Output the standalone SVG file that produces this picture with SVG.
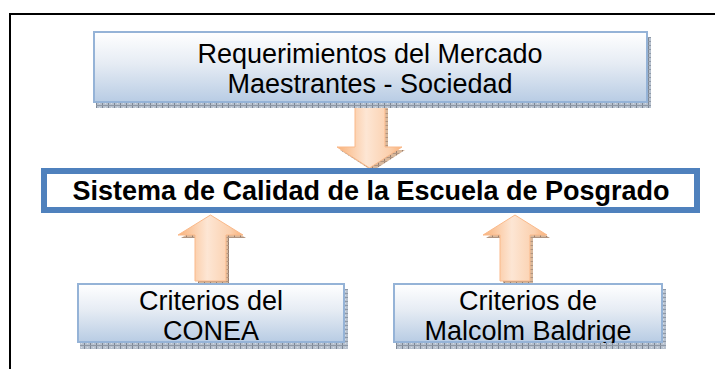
<svg xmlns="http://www.w3.org/2000/svg" width="715" height="369" viewBox="0 0 715 369">
<style>
.box{stroke:#95B3D7;stroke-width:2;fill:url(#boxg)}
.sh{fill:url(#dots)}
.ash{fill:url(#adots)}
.t{font-family:"Liberation Sans",Arial,sans-serif;font-size:27px;fill:#000;text-anchor:middle}
.b{font-weight:bold}
.arr{fill:url(#arrg);stroke:#FAB98A;stroke-width:1}
</style>
<defs>
<linearGradient id="boxg" x1="0" y1="0" x2="0" y2="1">
<stop offset="0" stop-color="#FFFFFF"/>
<stop offset="0.45" stop-color="#E6ECF4"/>
<stop offset="1" stop-color="#B8CCE4"/>
</linearGradient>
<linearGradient id="arrg" x1="0" y1="0" x2="1" y2="0">
<stop offset="0" stop-color="#F9B27A"/>
<stop offset="0.45" stop-color="#FDE6D4"/>
<stop offset="0.8" stop-color="#FBD0AE"/>
<stop offset="1" stop-color="#F9B27A"/>
</linearGradient>
<pattern id="dots" width="6" height="4" patternUnits="userSpaceOnUse">
<rect width="6" height="4" fill="#B7C1CE"/>
<rect width="1" height="4" fill="#7E8896"/>
<rect y="1" width="6" height="1" fill="#8E98A6"/>
<rect x="3" y="3" width="1" height="1" fill="#D6DCE4"/>
</pattern>
<pattern id="adots" width="6" height="4" patternUnits="userSpaceOnUse">
<rect width="6" height="4" fill="#D8B89C"/>
<rect width="1" height="4" fill="#9A8070"/>
<rect y="1" width="6" height="1" fill="#B09480"/>
</pattern>
<clipPath id="clipL"><rect x="77" y="283" width="268" height="60"/></clipPath>
<clipPath id="clipR"><rect x="393" y="283" width="270" height="60"/></clipPath>
</defs>
<rect x="10" y="14" width="720" height="370" fill="#FFFFFF" stroke="#000000" stroke-width="2"/>
<g id="connectors">
<polygon class="ash" points="358,104 388,104 388,150 405,150 372.5,171 340,150 358,150"/>
<polygon class="arr" points="355,104 385,104 385,147 402,147 369.5,168 337,147 355,147"/>
<polygon class="ash" points="213.5,218 246,238 229,238 229,283 198,283 198,238 181,238"/>
<polygon class="arr" points="210.5,215 243,235 226,235 226,281 195,281 195,235 178,235"/>
<polygon class="ash" points="518,218 550,238 533,238 533,283 503,283 503,238 486,238"/>
<polygon class="arr" points="515,215 547,235 530,235 530,281 500,281 500,235 483,235"/>
</g>
<g id="top">
<rect class="sh" x="96" y="37" width="555" height="71"/>
<rect class="box" x="94" y="32" width="553" height="70"/>
<text class="t" x="370" y="63">Requerimientos del Mercado</text>
<text class="t" x="370" y="93">Maestrantes - Sociedad</text>
</g>
<g id="main">
<rect x="44" y="171" width="653" height="39" fill="#FFFFFF" stroke="#4F81BD" stroke-width="6"/>
<text class="t b" x="371" y="200">Sistema de Calidad de la Escuela de Posgrado</text>
</g>
<g id="conea">
<rect class="sh" x="80" y="289" width="268" height="60"/>
<rect class="box" x="78" y="284" width="266" height="58"/>
<g clip-path="url(#clipL)">
<text class="t" x="211" y="310">Criterios del</text>
<text class="t" x="211" y="340">CONEA</text>
</g>
</g>
<g id="baldrige">
<rect class="sh" x="396" y="289" width="270" height="60"/>
<rect class="box" x="394" y="284" width="268" height="58"/>
<g clip-path="url(#clipR)">
<text class="t" x="528" y="310">Criterios de</text>
<text class="t" x="528" y="340">Malcolm Baldrige</text>
</g>
</g>
</svg>
